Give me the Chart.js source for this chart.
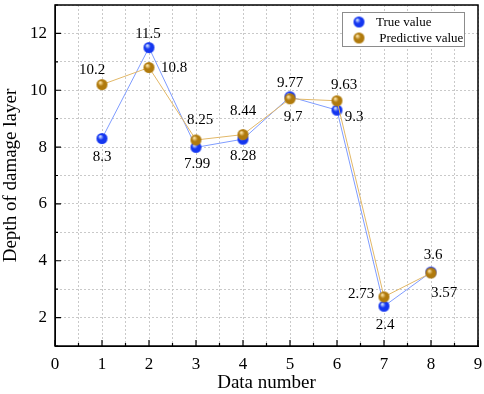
<!DOCTYPE html>
<html>
<head>
<meta charset="utf-8">
<script src="https://cdn.jsdelivr.net/npm/chart.js@4"></script>
<style>
  html, body { margin: 0; padding: 0; background: #fff; }
  #wrap { width: 484px; height: 394px; }
</style>
</head>
<body>
<div id="wrap"><canvas id="chart" width="484" height="394"></canvas></div>
<script>
// data
const dataNumbers = [1, 2, 3, 4, 5, 6, 7, 8];
const trueValues = [8.3, 11.5, 7.99, 8.28, 9.77, 9.3, 2.4, 3.6];
const predValues = [10.2, 10.8, 8.25, 8.44, 9.7, 9.63, 2.73, 3.57];
const seriesNames = ['True value', 'Predictive value'];

// label offsets (px) from each point, [dx, dy]
const trueLabelOffsets = [[0, 19], [-1, -14], [1, 17], [0, 17], [0, -14], [17, 7], [1, 19], [2, -17]];
const predLabelOffsets = [[-10, -15], [25, 1], [4, -20], [0, -24], [3, 18], [7, -16], [-23, -3], [13, 20]];

const FONT = '"Liberation Serif", "Times New Roman", serif';

// kleine bolletjes met glans
function sphere(base, light, r) {
  const c = document.createElement('canvas');
  c.width = c.height = r * 2 + 2;
  const g = c.getContext('2d');
  const cx = r + 1, cy = r + 1;
  const grad = g.createRadialGradient(cx - r * 0.35, cy - r * 0.4, r * 0.1, cx, cy, r);
  grad.addColorStop(0, light);
  grad.addColorStop(0.45, base);
  grad.addColorStop(1, base);
  g.fillStyle = grad;
  g.beginPath();
  g.arc(cx, cy, r, 0, Math.PI * 2);
  g.fill();
  return c;
}
const blueDot = sphere('#1436f0', '#cfe0ff', 5.5);
const goldDot = sphere('#b07a0c', '#ffe6a8', 5.5);

const framePlugin = {
  id: 'frame',
  afterDraw(chart) {
    const { ctx, chartArea: a, scales } = chart;
    ctx.save();
    ctx.strokeStyle = '#000';
    ctx.lineWidth = 1.5;
    ctx.strokeRect(a.left, a.top, a.right - a.left, a.bottom - a.top);
    // inward ticks
    ctx.lineWidth = 1.2;
    ctx.beginPath();
    scales.x.ticks.forEach(t => {
      const px = scales.x.getPixelForValue(t.value);
      const len = Number.isInteger(t.value) ? 6 : 3;
      ctx.moveTo(px, a.bottom);
      ctx.lineTo(px, a.bottom - len);
    });
    scales.y.ticks.forEach(t => {
      const py = scales.y.getPixelForValue(t.value);
      const len = t.value % 2 === 0 ? 6 : 3;
      ctx.moveTo(a.left, py);
      ctx.lineTo(a.left + len, py);
    });
    ctx.stroke();

    // legend box
    const lx = 342, ly = 12, lw = 122, lh = 34;
    ctx.fillStyle = '#fff';
    ctx.fillRect(lx, ly, lw, lh);
    ctx.strokeStyle = '#8c8c8c';
    ctx.lineWidth = 1;
    ctx.strokeRect(lx + 0.5, ly + 0.5, lw, lh);
    ctx.font = '13px ' + FONT;
    ctx.fillStyle = '#000';
    ctx.textBaseline = 'middle';
    ctx.textAlign = 'left';
    ctx.drawImage(blueDot, 359 - blueDot.width / 2, 22 - blueDot.height / 2);
    ctx.fillText(seriesNames[0], 376, 22.5);
    ctx.drawImage(goldDot, 359 - goldDot.width / 2, 38 - goldDot.height / 2);
    ctx.fillText(' ' + seriesNames[1], 376, 38.5);
    ctx.restore();
  }
};

const labelPlugin = {
  id: 'pointLabels',
  afterDatasetsDraw(chart) {
    const { ctx } = chart;
    const offsets = [trueLabelOffsets, predLabelOffsets];
    ctx.save();
    ctx.font = '15px ' + FONT;
    ctx.fillStyle = '#000';
    ctx.textAlign = 'center';
    ctx.textBaseline = 'middle';
    chart.data.datasets.forEach((ds, i) => {
      const meta = chart.getDatasetMeta(i);
      meta.data.forEach((pt, j) => {
        const [dx, dy] = offsets[i][j];
        ctx.fillText(String(ds.data[j].y), pt.x + dx, pt.y + dy);
      });
    });
    ctx.restore();
  }
};

const ctx = document.getElementById('chart').getContext('2d');
new Chart(ctx, {
  type: 'line',
  data: {
    datasets: [{
      label: seriesNames[0],
      data: dataNumbers.map((x, i) => ({ x, y: trueValues[i] })),
      borderColor: '#7f9cff',
      borderWidth: 1,
      pointStyle: blueDot,
      order: 2
    }, {
      label: seriesNames[1],
      data: dataNumbers.map((x, i) => ({ x, y: predValues[i] })),
      borderColor: '#e2b868',
      borderWidth: 1,
      pointStyle: goldDot,
      order: 1
    }]
  },
  options: {
    responsive: false,
    animation: false,
    layout: { padding: { top: 2, right: 6, left: 0, bottom: 0 } },
    plugins: {
      legend: { display: false },
      tooltip: { enabled: false }
    },
    scales: {
      x: {
        type: 'linear',
        min: 0,
        max: 9,
        afterFit(s) { s.height = 48; s.paddingLeft = 0; s.paddingRight = 0; },
        grid: {
          color: '#c9c9c9',
          lineWidth: 1,
          drawTicks: false
        },
        border: { display: true, color: '#000', dash: [2, 2] },
        ticks: {
          stepSize: 0.5,
          autoSkip: false,
          maxRotation: 0,
          padding: 8,
          color: '#000',
          font: { family: FONT, size: 17 },
          callback: v => Number.isInteger(v) ? String(v) : ''
        },
        title: {
          display: true,
          text: 'Data number',
          color: '#000',
          font: { family: FONT, size: 19 },
          padding: { top: 0, bottom: 0 }
        }
      },
      y: {
        min: 1,
        max: 13,
        afterFit(s) { s.width = 55; s.paddingTop = 0; s.paddingBottom = 0; },
        grid: {
          color: '#c9c9c9',
          lineWidth: 1,
          drawTicks: false
        },
        border: { display: true, color: '#000', dash: [2, 2] },
        ticks: {
          stepSize: 1,
          autoSkip: false,
          padding: 8,
          color: '#000',
          font: { family: FONT, size: 17 },
          callback: v => v % 2 === 0 ? String(v) : ''
        },
        title: {
          display: true,
          text: 'Depth of damage layer',
          color: '#000',
          font: { family: FONT, size: 19 },
          padding: { top: 0, bottom: 2 }
        }
      }
    }
  },
  plugins: [framePlugin, labelPlugin]
});
</script>
</body>
</html>
